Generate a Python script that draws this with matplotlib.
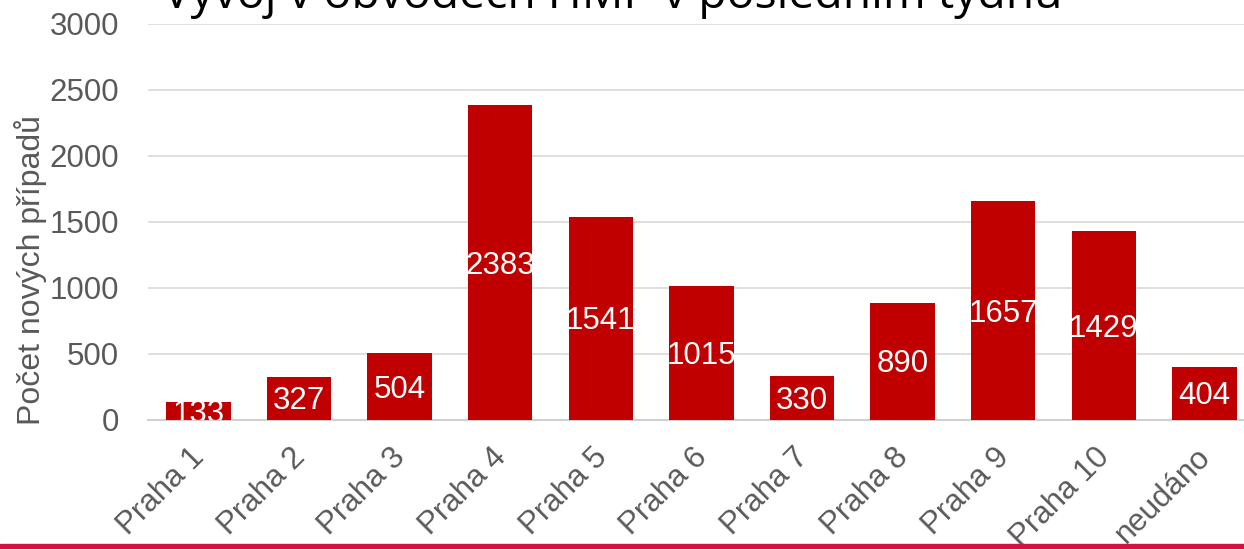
import numpy as np
import matplotlib.pyplot as plt
from matplotlib.transforms import ScaledTranslation

# data
obvody = ['Praha 1', 'Praha 2', 'Praha 3', 'Praha 4', 'Praha 5', 'Praha 6',
          'Praha 7', 'Praha 8', 'Praha 9', 'Praha 10', 'neudáno']
pripady = [133, 327, 504, 2383, 1541, 1015, 330, 890, 1657, 1429, 404]

plt.rcParams['font.family'] = ['Liberation Sans', 'DejaVu Sans']

fig = plt.figure(figsize=(12.44, 5.49), dpi=100)
ax = fig.add_axes([0.119, 0.235, 0.8896, 0.7213])

x = np.arange(len(obvody))
bars = ax.bar(x, pripady, width=0.64, color='#c00000', zorder=3)

# labels in the middle of each bar
shift_down = ScaledTranslation(0, -0.03, fig.dpi_scale_trans)
for xi, v in zip(x, pripady):
    t = ax.text(xi, v / 2, str(v), ha='center', va='center', color='white',
                fontsize=22.5, zorder=4, transform=ax.transData + shift_down)
    t.set_clip_on(True)
    t.set_clip_box(ax.bbox)

ax.set_xlim(-0.5, len(obvody) - 0.5)
ax.set_ylim(0, 3000)
ax.set_yticks(np.arange(0, 3001, 500))
ax.yaxis.grid(True, color='#d9d9d9', linewidth=1.2, zorder=0)
ax.set_axisbelow(True)

for s in ['top', 'right', 'left']:
    ax.spines[s].set_visible(False)
ax.spines['bottom'].set_color('#d0d0d0')
ax.spines['bottom'].set_linewidth(1.5)

ax.tick_params(axis='both', length=0, labelsize=22.5, colors='#595959')
ax.tick_params(axis='y', pad=21)
ax.set_xticks(x)
ax.set_xticklabels(obvody, rotation=45, ha='right', rotation_mode='anchor')
ax.tick_params(axis='x', pad=16)
for lab in ax.get_xticklabels():
    lab.set_transform(lab.get_transform() +
                      ScaledTranslation(-0.09, 0, fig.dpi_scale_trans))

ax.set_ylabel('Počet nových případů', fontsize=23, color='#595959')
ax.yaxis.set_label_coords(-0.091, 0.379)

# title (cut off by the top edge like in the original)
fig.text(0.131, 0.985, 'Vývoj v obvodech HMP v posledním týdnu',
         fontsize=33.3, family=['Open Sans', 'DejaVu Sans'], color='black',
         ha='left', va='baseline')

# red stripe at the bottom
fig.add_artist(plt.Rectangle((0, 0), 1, 0.01, transform=fig.transFigure,
                             color='#d21245', zorder=10))

fig.savefig('out.png', dpi=100)
